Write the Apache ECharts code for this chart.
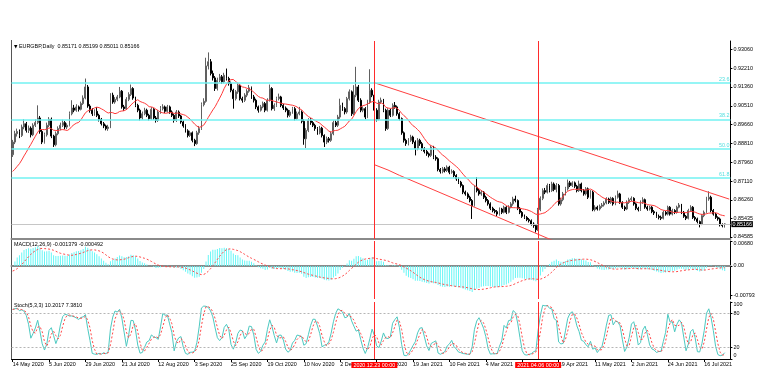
<!DOCTYPE html>
<html><head><meta charset="utf-8">
<script src="https://cdn.jsdelivr.net/npm/echarts@6/dist/echarts.min.js"></script>
<style>html,body{margin:0;padding:0;background:#fff}#c{width:777px;height:390px}</style>
</head><body><div id="c"></div>
<script>
// ---- data (prices in pips: 8887 = 0.8887) ----
const openP = [8830,8887,8925,8935,8917,8955,8970,8940,8950,8920,
8963,8975,8996,8935,8887,8920,8963,8990,8914,8875,
8925,8948,8963,8975,8955,8963,9015,9041,9031,9046,
9035,9061,9086,9136,9050,9031,9015,9026,9008,8990,
8970,8960,8948,8955,9099,9068,9080,9091,9117,9046,
9038,9080,9102,9129,9086,9053,9031,8996,9015,9031,
9008,8993,9035,8996,8985,9023,9038,9046,9026,9046,
9023,9008,8985,9023,9005,8978,8960,8938,8917,8929,
8895,8880,8929,8948,9056,9071,9231,9250,9197,9177,
9129,9166,9182,9159,9189,9174,9151,9121,9083,9114,
9144,9083,9076,9099,9117,9132,9091,9076,9046,9031,
9046,9061,9031,9076,9129,9038,9053,9083,9091,9053,
9041,9031,9008,9023,9038,8993,9015,9023,8981,8902,
8940,8985,8975,8963,8948,8929,8950,8917,8887,8902,
8895,8925,8975,8963,9000,9053,9038,9023,9083,9114,
9015,9099,9136,9076,9031,9038,9000,9068,9121,9099,
9031,8990,9068,9076,9031,8948,9031,9008,9053,9046,
9015,8993,8929,8895,8880,8895,8910,8887,8857,8895,
8880,8857,8845,8834,8827,8864,8819,8812,8763,8754,
8766,8759,8774,8751,8754,8736,8721,8706,8691,8661,
8653,8638,8623,8600,8683,8668,8653,8661,8638,8623,
8608,8588,8578,8573,8562,8585,8570,8593,8570,8593,
8608,8630,8623,8588,8570,8552,8547,8537,8532,8517,
8510,8491,8582,8633,8668,8661,8691,8668,8698,8673,
8691,8608,8627,8653,8676,8703,8691,8703,8688,8668,
8698,8668,8653,8676,8638,8661,8582,8593,8585,8597,
8603,8612,8630,8615,8633,8608,8638,8653,8615,8593,
8585,8615,8627,8633,8608,8588,8582,8615,8627,8593,
8585,8593,8573,8567,8552,8547,8543,8570,8562,8593,
8562,8578,8570,8593,8603,8570,8552,8543,8578,8593,
8547,8540,8528,8517,8555,8570,8630,8638,8578,8562,
8547,8540,8514,8517];
const highP = [8897,8938,8948,8944,8966,8990,8978,8962,8958,8972,
8990,9053,9005,8942,8930,8975,9000,8998,8920,8935,
8958,8975,8988,8982,8972,9025,9076,9055,9058,9052,
9070,9098,9174,9145,9058,9040,9035,9045,9015,8996,
8978,8966,8965,9108,9110,9090,9100,9136,9122,9055,
9090,9112,9147,9135,9092,9060,9038,9025,9042,9038,
9015,9045,9040,9005,9032,9050,9058,9052,9055,9052,
9030,9015,9032,9030,9010,8985,8968,8945,8938,8935,
8902,8938,8960,9066,9085,9268,9292,9262,9210,9185,
9178,9195,9190,9200,9219,9182,9160,9128,9122,9155,
9150,9092,9108,9126,9145,9138,9100,9083,9052,9055,
9070,9068,9085,9147,9135,9062,9092,9106,9096,9060,
9048,9038,9032,9046,9045,9025,9046,9030,8990,8950,
8995,8995,8982,8970,8955,8960,8956,8922,8912,8910,
8935,8985,8985,9010,9083,9065,9045,9091,9125,9120,
9144,9227,9145,9085,9048,9045,9078,9216,9130,9108,
9040,9078,9088,9082,9038,9040,9038,9062,9068,9052,
9022,8998,8935,8902,8905,8920,8916,8895,8905,8902,
8888,8864,8852,8840,8872,8870,8828,8818,8770,8775,
8774,8782,8780,8764,8760,8742,8728,8712,8696,8668,
8660,8645,8630,8692,8729,8675,8670,8666,8645,8630,
8615,8595,8585,8580,8592,8590,8600,8598,8602,8616,
8640,8645,8628,8594,8576,8560,8553,8544,8538,8525,
8515,8590,8642,8678,8680,8700,8698,8708,8705,8702,
8698,8636,8662,8685,8718,8712,8710,8709,8694,8713,
8704,8675,8684,8682,8670,8668,8602,8600,8605,8612,
8620,8638,8636,8640,8638,8646,8668,8658,8620,8600,
8624,8636,8642,8638,8614,8595,8624,8638,8632,8600,
8600,8598,8580,8572,8560,8555,8578,8576,8600,8598,
8586,8584,8600,8612,8608,8576,8558,8586,8602,8598,
8553,8546,8533,8562,8578,8640,8665,8645,8585,8568,
8552,8546,8520,8520];
const lowP = [8820,8878,8912,8905,8910,8945,8930,8928,8908,8914,
8955,8968,8925,8878,8880,8912,8955,8905,8865,8868,
8918,8940,8955,8945,8946,8958,9008,9022,9024,9025,
9030,9055,9080,9042,9020,9005,9006,9000,8980,8962,
8950,8940,8938,8950,9060,9060,9072,9085,9038,9028,
9032,9072,9095,9078,9045,9022,8985,8988,9008,9000,
8985,8988,8988,8975,8978,9015,9030,9018,9020,9015,
9000,8975,8978,8996,8970,8952,8930,8908,8910,8886,
8869,8875,8920,8942,9048,9065,9215,9188,9165,9118,
9120,9158,9150,9152,9165,9142,9112,9038,9075,9105,
9075,9065,9068,9090,9110,9082,9066,9036,9020,9025,
9040,9022,9025,9070,9030,9028,9046,9075,9045,9032,
9022,8998,9000,9015,8985,8988,9008,8972,8875,8860,
8932,8965,8955,8938,8920,8922,8908,8865,8878,8885,
8888,8918,8955,8955,8992,9028,9012,9015,9075,9005,
9008,9090,9068,9022,9022,8990,8995,9060,9090,9020,
8980,8985,9060,9022,8938,8942,9000,9002,9038,9006,
8985,8920,8885,8870,8872,8888,8878,8827,8850,8870,
8848,8836,8825,8818,8820,8810,8803,8755,8745,8746,
8750,8752,8742,8744,8728,8712,8698,8682,8652,8645,
8630,8615,8540,8596,8660,8645,8645,8630,8615,8600,
8580,8570,8565,8553,8555,8562,8565,8562,8565,8588,
8600,8615,8580,8562,8545,8540,8530,8524,8510,8500,
8479,8486,8575,8625,8652,8655,8660,8662,8665,8660,
8600,8600,8620,8646,8668,8684,8684,8680,8660,8662,
8660,8645,8646,8630,8632,8575,8574,8578,8578,8590,
8596,8606,8608,8608,8600,8602,8632,8608,8585,8576,
8580,8608,8620,8600,8580,8574,8576,8608,8586,8577,
8578,8566,8558,8545,8538,8535,8538,8555,8556,8555,
8556,8562,8564,8588,8562,8545,8535,8538,8572,8540,
8532,8520,8502,8512,8548,8565,8622,8570,8555,8540,
8532,8506,8502,8501];
const closeP = [8887,8925,8935,8917,8955,8970,8940,8950,8920,8963,
8975,8996,8935,8887,8920,8963,8990,8914,8875,8925,
8948,8963,8975,8955,8963,9015,9041,9031,9046,9035,
9061,9086,9136,9050,9031,9015,9026,9008,8990,8970,
8960,8948,8955,9099,9068,9080,9091,9117,9046,9038,
9080,9102,9129,9086,9053,9031,8996,9015,9031,9008,
8993,9035,8996,8985,9023,9038,9046,9026,9046,9023,
9008,8985,9023,9005,8978,8960,8938,8917,8929,8895,
8880,8929,8948,9056,9071,9231,9250,9197,9177,9129,
9166,9182,9159,9189,9174,9151,9121,9083,9114,9144,
9083,9076,9099,9117,9132,9091,9076,9046,9031,9046,
9061,9031,9076,9129,9038,9053,9083,9091,9053,9041,
9031,9008,9023,9038,8993,9015,9023,8981,8902,8940,
8985,8975,8963,8948,8929,8950,8917,8887,8902,8895,
8925,8975,8963,9000,9053,9038,9023,9083,9114,9015,
9099,9136,9076,9031,9038,9000,9068,9121,9099,9031,
8990,9068,9076,9031,8948,9031,9008,9053,9046,9015,
8993,8929,8895,8880,8895,8910,8887,8857,8895,8880,
8857,8845,8834,8827,8864,8819,8812,8763,8754,8766,
8759,8774,8751,8754,8736,8721,8706,8691,8661,8653,
8638,8623,8600,8683,8668,8653,8661,8638,8623,8608,
8588,8578,8573,8562,8585,8570,8593,8570,8593,8608,
8630,8623,8588,8570,8552,8547,8537,8532,8517,8510,
8491,8582,8633,8668,8661,8691,8668,8698,8673,8691,
8608,8627,8653,8676,8703,8691,8703,8688,8668,8698,
8668,8653,8676,8638,8661,8582,8593,8585,8597,8603,
8612,8630,8615,8633,8608,8638,8653,8615,8593,8585,
8615,8627,8633,8608,8588,8582,8615,8627,8593,8585,
8593,8573,8567,8552,8547,8543,8570,8562,8593,8562,
8578,8570,8593,8603,8570,8552,8543,8578,8593,8547,
8540,8528,8517,8555,8570,8630,8638,8578,8562,8547,
8540,8514,8510,8517];
// closes of the bars just before the visible range (indicator warm-up only)
const preClose = [8790,8770,8760,8740,8730,8720,8710,8700,8720,8740,8760,8780];

const xTickLabels = ['14 May 2020','5 Jun 2020','29 Jun 2020','21 Jul 2020','12 Aug 2020','3 Sep 2020','25 Sep 2020','19 Oct 2020','10 Nov 2020','2 Dec 2020','24 Dec 2020','19 Jan 2021','10 Feb 2021','4 Mar 2021','26 Mar 2021','19 Apr 2021','11 May 2021','2 Jun 2021','24 Jun 2021','16 Jul 2021'];
const xTickStep = 16;
const priceTicks = [0.93060,0.92210,0.91360,0.90510,0.89660,0.88810,0.87960,0.87110,0.86260,0.85435,0.84585];
const macdTicks = [0.0068, 0, -0.00793];
const macdTickText = ['0.00680','0.00','-0.00793'];
const stochTicks = [100, 80, 20, 0];
const stochLevels = [20, 80];
const fiboLevels = [9155, 8989, 8858, 8726];
const fiboNames = ['23.6','38.2','50.0','61.8'];
const upperTrend = [[159, 9155], [265, 8798]];
const lowerTrend = [[159, 8785], [170, 8737]];
const vLines = [159, 231];
const vLineLabels = ['2020.12.23 00:00', '2021.04.06 00:00'];
const lastPrice = 0.85166;
const mainTitle = 'EURGBP,Daily  0.85171 0.85199 0.85011 0.85166';
const macdTitle = 'MACD(12,26,9) -0.001379 -0.000492';
const stochTitle = 'Stoch(5,3,3) 10.2017 7.3810';
const MA_PERIOD = 13;

// ---- derived ----
const FONT = 'Liberation Sans';
const FS = 5.4;
const N = closeP.length, NCAT = N + 2;
const cats = Array.from({length: NCAT}, (_, i) => String(i));
const candle = closeP.map((c, i) => [openP[i]/1e4, c/1e4, lowP[i]/1e4, highP[i]/1e4]);
const all = preClose.concat(closeP), P = preClose.length;
const ma = closeP.map((_, i) => { const j = i + P; let s = 0; for (let k = j - MA_PERIOD + 1; k <= j; k++) s += all[k]; return +(s / MA_PERIOD / 1e4).toFixed(5); });
function ema(arr, n) { const a = 2/(n+1); const out = []; let e = arr[0]; arr.forEach((v, i) => { e = i ? e + a*(v - e) : v; out.push(e); }); return out; }
const e12 = ema(all, 12), e26 = ema(all, 26);
const macdAll = all.map((v, i) => (e12[i] - e26[i]) / 1e4);
const sigAll = macdAll.map((v, i) => { const s = Math.max(0, i - 8); let t = 0; for (let k = s; k <= i; k++) t += macdAll[k]; return t / (i - s + 1); });
const macd = macdAll.slice(P).map(v => +v.toFixed(6)), sig = sigAll.slice(P).map(v => +v.toFixed(6));
const ll = [], hh = [];
for (let i = 0; i < N; i++) { const s = Math.max(0, i - 4); ll.push(Math.min(...lowP.slice(s, i + 1))); hh.push(Math.max(...highP.slice(s, i + 1))); }
const stK = closeP.map((_, i) => { const s = Math.max(0, i - 2); let nu = 0, de = 0; for (let k = s; k <= i; k++) { nu += closeP[k] - ll[k]; de += hh[k] - ll[k]; } return de ? +(100 * nu / de).toFixed(2) : 50; });
const stD = stK.map((_, i) => { const s = Math.max(0, i - 2); let t = 0; for (let k = s; k <= i; k++) t += stK[k]; return +(t / (i - s + 1)).toFixed(2); });

function trendData(t) {
  const [[x1, y1], [x2, y2]] = t; const slope = (y2 - y1) / (x2 - x1); const xe = NCAT - 1;
  return [
    {value: [x1, y1/1e4]},
    {value: [(x1 + x2)/2, (y1 + y2)/2/1e4]},
    {value: [x2, y2/1e4]},
    {value: [xe, (y1 + slope*(xe - x1))/1e4], symbol: 'none'}
  ];
}

const RED = '#ff2b2b';
const mainMarks = [];
fiboLevels.forEach((v, k) => mainMarks.push({yAxis: v/1e4, lineStyle: {color: '#72f2f2', width: 1.5, type: 'solid'},
  label: {show: true, position: 'insideEndTop', formatter: fiboNames[k], color: '#4fdede', fontSize: FS, fontFamily: FONT, distance: 1}}));
mainMarks.push({yAxis: lastPrice, lineStyle: {color: '#c6c6c6', width: 1, type: 'solid'},
  label: {show: true, position: 'end', formatter: lastPrice.toFixed(5), color: '#fff', backgroundColor: '#000', fontSize: FS, fontFamily: FONT, padding: [1, 1, 0, 1], distance: 1}});
vLines.forEach(x => mainMarks.push({xAxis: x, lineStyle: {color: RED, width: 1, type: 'solid'}, label: {show: false}}));
const macdMarks = vLines.map(x => ({xAxis: x, lineStyle: {color: RED, width: 1, type: 'solid'}, label: {show: false}}));
const stochMarks = stochLevels.map(v => ({yAxis: v, lineStyle: {color: '#b5b5b5', width: 1, type: [2, 2]}, label: {show: false}}));
vLines.forEach((x, k) => stochMarks.push({xAxis: x, lineStyle: {color: RED, width: 1, type: 'solid'},
  label: {show: true, position: 'start', formatter: vLineLabels[k], color: '#fff', backgroundColor: '#ff0000', fontSize: FS, fontFamily: FONT, padding: [1, 2, 0, 2], distance: 3}}));
const mlBase = {symbol: ['none', 'none'], silent: true, animation: false, precision: 6};

const GL = 11.5, GW = NCAT * 2.275;
const grids = [
  {left: GL, width: GW, top: 41, height: 198},
  {left: GL, width: GW, top: 241, height: 58},
  {left: GL, width: GW, top: 302, height: 57}
];
const isTick = (idx) => idx % xTickStep === 0 && idx / xTickStep < xTickLabels.length;
const hiddenX = (gi) => ({type: 'category', gridIndex: gi, data: cats, boundaryGap: true,
  axisLine: {show: true, lineStyle: {color: '#8a8a8a', width: 2}}, axisTick: {show: false}, axisLabel: {show: false}, splitLine: {show: false}});
const lbl = {fontSize: FS, fontFamily: FONT, color: '#000'};

const option = {
  animation: false,
  backgroundColor: '#ffffff',
  title: [
    {text: '{a|▼} ' + mainTitle, left: 14, top: 44, padding: 0, textStyle: {fontSize: FS, fontFamily: FONT, fontWeight: 'normal', color: '#000', rich: {a: {fontFamily: 'DejaVu Sans', fontSize: 4.5, color: '#000'}}}},
    {text: macdTitle, left: 14, top: 242, padding: 0, textStyle: {fontSize: FS, fontFamily: FONT, fontWeight: 'normal', color: '#000'}},
    {text: stochTitle, left: 14, top: 303, padding: 0, textStyle: {fontSize: FS, fontFamily: FONT, fontWeight: 'normal', color: '#000'}}
  ],
  grid: grids.map(g => Object.assign({containLabel: false, outerBoundsMode: 'none'}, g)),
  xAxis: [hiddenX(0), hiddenX(1), {
    type: 'category', gridIndex: 2, data: cats, boundaryGap: true,
    axisLine: {show: true, lineStyle: {color: '#000', width: 1}},
    axisTick: {show: true, interval: (i) => isTick(i), alignWithLabel: true, length: 3, lineStyle: {color: '#000'}},
    axisLabel: Object.assign({show: true, interval: (i) => isTick(i), formatter: (v, i) => xTickLabels[i / xTickStep] || '', align: 'left', margin: 3}, lbl),
    splitLine: {show: false}
  }],
  yAxis: [
    {type: 'value', gridIndex: 0, position: 'right', min: 0.84495, max: 0.93435, scale: true,
     axisLine: {show: true, lineStyle: {color: '#000'}}, axisTick: {show: true, length: 2, customValues: priceTicks, lineStyle: {color: '#000'}},
     axisLabel: Object.assign({customValues: priceTicks, formatter: v => v.toFixed(5), margin: 3}, lbl), splitLine: {show: false}},
    {type: 'value', gridIndex: 1, position: 'right', min: -0.009, max: 0.0068,
     axisLine: {show: true, lineStyle: {color: '#000'}}, axisTick: {show: true, length: 2, customValues: macdTicks, lineStyle: {color: '#000'}},
     axisLabel: Object.assign({customValues: macdTicks, margin: 3,
       formatter: v => { const k = macdTicks.findIndex(t => Math.abs(t - v) < 1e-9); const s = k >= 0 ? macdTickText[k] : ''; return k === 0 ? '{t|' + s + '}' : s; },
       rich: {t: {fontSize: FS, fontFamily: FONT, color: '#000', padding: [6, 0, 0, 0]}}}, lbl), splitLine: {show: false}},
    {type: 'value', gridIndex: 2, position: 'right', min: 0, max: 100,
     axisLine: {show: true, lineStyle: {color: '#000'}}, axisTick: {show: true, length: 2, customValues: stochTicks, lineStyle: {color: '#000'}},
     axisLabel: Object.assign({customValues: stochTicks, margin: 3,
       formatter: v => v === 100 ? '{t|100}' : (v === 0 ? '{b|0}' : String(v)),
       rich: {t: {fontSize: FS, fontFamily: FONT, color: '#000', padding: [5, 0, 0, 0]}, b: {fontSize: FS, fontFamily: FONT, color: '#000', padding: [0, 0, 6, 0]}}}, lbl), splitLine: {show: false}}
  ],
  series: [
    {type: 'candlestick', name: 'EURGBP', xAxisIndex: 0, yAxisIndex: 0, data: candle, barWidth: 1.4,
     itemStyle: {color: '#8c8c8c', borderColor: '#606060', color0: '#000000', borderColor0: '#000000', borderWidth: 1},
     markLine: Object.assign({data: mainMarks}, mlBase)},
    {type: 'line', name: 'MA', xAxisIndex: 0, yAxisIndex: 0, data: ma, showSymbol: false, symbol: 'none',
     lineStyle: {color: '#ff3a3a', width: 1}, z: 3},
    {type: 'line', name: 'trendUp', xAxisIndex: 0, yAxisIndex: 0, data: trendData(upperTrend), symbol: 'rect', symbolSize: 4,
     itemStyle: {color: '#ffffff', borderColor: RED, borderWidth: 1}, lineStyle: {color: '#ff4040', width: 1}, z: 4},
    {type: 'line', name: 'trendDown', xAxisIndex: 0, yAxisIndex: 0, data: trendData(lowerTrend), symbol: 'rect', symbolSize: 4,
     itemStyle: {color: '#ffffff', borderColor: RED, borderWidth: 1}, lineStyle: {color: '#ff4040', width: 1}, z: 4},
    {type: 'bar', name: 'MACD', xAxisIndex: 1, yAxisIndex: 1, data: macd, barWidth: 1, itemStyle: {color: '#66f6f6'},
     markLine: Object.assign({data: macdMarks}, mlBase)},
    {type: 'line', name: 'Signal', xAxisIndex: 1, yAxisIndex: 1, data: sig, symbol: 'none', lineStyle: {color: '#ff4848', width: 1, type: [2, 2]}},
    {type: 'line', name: 'StochK', xAxisIndex: 2, yAxisIndex: 2, data: stK, symbol: 'none', lineStyle: {color: '#4cc9c1', width: 1},
     markLine: Object.assign({data: stochMarks}, mlBase)},
    {type: 'line', name: 'StochD', xAxisIndex: 2, yAxisIndex: 2, data: stD, symbol: 'none', lineStyle: {color: '#ff4848', width: 1, type: [2, 2]}}
  ],
  graphic: [
    {type: 'line', shape: {x1: GL, y1: 40, x2: GL, y2: 359}, style: {stroke: '#555', lineWidth: 1}, silent: true}
  ]
};
const chart = echarts.init(document.getElementById('c'), null, {renderer: 'canvas'});
chart.setOption(option);
</script></body></html>
